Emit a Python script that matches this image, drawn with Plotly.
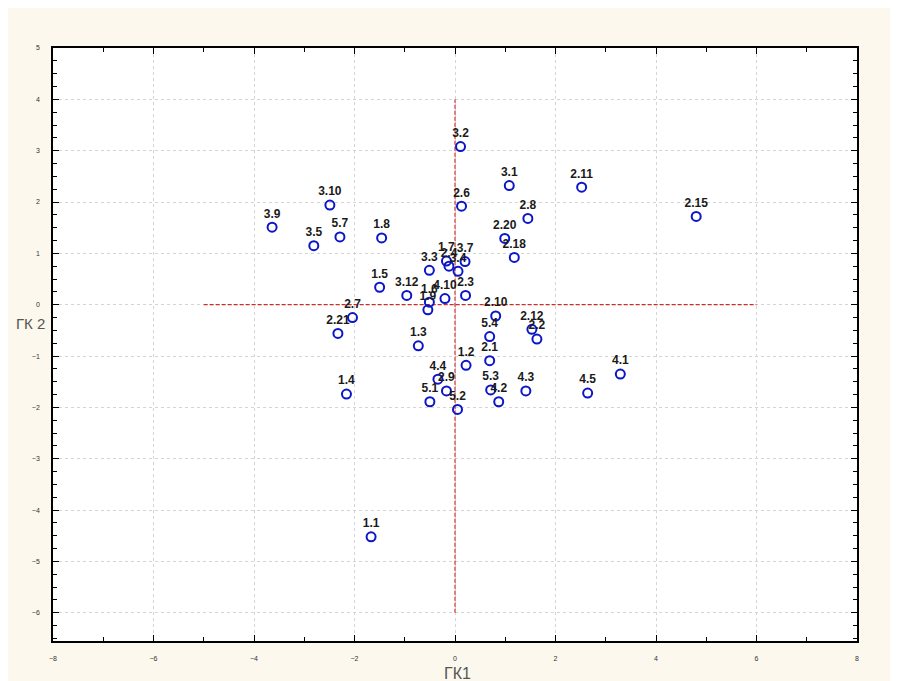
import plotly.graph_objects as go

labels = ["3.2", "3.1", "2.11", "3.10", "2.6", "2.8", "5.7", "1.8", "3.5", "2.20",
          "2.18", "3.3", "3.7", "1.7", "2.4", "3.4", "3.12", "1.6", "1.9", "4.10",
          "2.3", "2.10", "2.12", "2.2", "5.4", "1.3", "1.2", "2.1", "4.1", "4.4",
          "2.9", "5.3", "4.2", "4.3", "4.5", "5.1", "5.2", "3.9", "1.5", "2.7",
          "2.21", "1.4", "1.1", "2.15"]
gk1 = [0.11, 1.08, 2.52, -2.49, 0.13, 1.45, -2.29, -1.46, -2.81, 0.99,
       1.18, -0.51, 0.20, -0.17, -0.12, 0.06, -0.96, -0.51, -0.54, -0.20,
       0.21, 0.81, 1.53, 1.63, 0.69, -0.73, 0.22, 0.69, 3.29, -0.34,
       -0.17, 0.71, 0.87, 1.41, 2.64, -0.50, 0.05, -3.64, -1.50, -2.04,
       -2.33, -2.16, -1.67, 4.80]
gk2 = [3.08, 2.32, 2.29, 1.94, 1.92, 1.68, 1.32, 1.30, 1.15, 1.29,
       0.92, 0.67, 0.84, 0.85, 0.75, 0.65, 0.18, 0.05, -0.10, 0.12,
       0.18, -0.22, -0.48, -0.67, -0.62, -0.80, -1.18, -1.09, -1.35, -1.45,
       -1.68, -1.66, -1.89, -1.68, -1.72, -1.89, -2.04, 1.51, 0.34, -0.25,
       -0.56, -1.74, -4.52, 1.72]

# reference cross lines
vline_x = [0, 0]
vline_y = [-6, 4]
hline_x = [-5, 6]
hline_y = [0, 0]

x_range = [-8, 8]
y_range = [-6.55, 5]

fig = go.Figure()
fig.add_trace(go.Scatter(x=vline_x, y=vline_y, mode="lines",
                         line=dict(color="#c80000", width=1, dash="4px,2px"),
                         hoverinfo="skip", showlegend=False))
fig.add_trace(go.Scatter(x=hline_x, y=hline_y, mode="lines",
                         line=dict(color="#c80000", width=1, dash="4px,2px"),
                         hoverinfo="skip", showlegend=False))
fig.add_trace(go.Scatter(
    x=gk1, y=gk2, text=labels, mode="markers+text",
    textposition="top center",
    textfont=dict(family="Liberation Sans, Arial", size=12, color="#1a1a1a", weight="bold"),
    marker=dict(symbol="circle-open", size=9, color="#0b16c8", line=dict(width=2, color="#0b16c8")),
    showlegend=False))

axis_common = dict(
    showline=True, linecolor="black", linewidth=1.5, mirror="ticks",
    ticks="inside", ticklen=6, tickcolor="black",
    showgrid=True, gridcolor="#d4d4d4", griddash="dot", gridwidth=1,
    zeroline=False,
    tickfont=dict(family="Liberation Sans, Arial", size=7, color="#333333"),
)

fig.update_xaxes(range=x_range, dtick=2, tick0=0,
                 minor=dict(dtick=1, ticks="inside", ticklen=4, tickcolor="black", showgrid=False),
                 ticklabelstandoff=10, **axis_common)
fig.update_yaxes(range=y_range, dtick=1, tick0=0,
                 minor=dict(dtick=0.25, ticks="inside", ticklen=4, tickcolor="black", showgrid=False),
                 ticklabelstandoff=10, **axis_common)

fig.update_layout(
    width=890, height=673,
    margin=dict(l=45, r=41, t=40, b=40),
    paper_bgcolor="#fcf8ee", plot_bgcolor="white",
    annotations=[
        dict(text="ГК 2", xref="paper", yref="paper", x=-0.0286, y=0.5346,
             xanchor="center", yanchor="middle", showarrow=False,
             font=dict(family="Liberation Sans, Arial", size=15, color="#555555")),
        dict(text="ГК1", xref="paper", yref="paper", x=0.5025, y=-0.054,
             xanchor="center", yanchor="middle", showarrow=False,
             font=dict(family="Liberation Sans, Arial", size=16, color="#555555")),
    ],
)

fig.write_html("out.html")
